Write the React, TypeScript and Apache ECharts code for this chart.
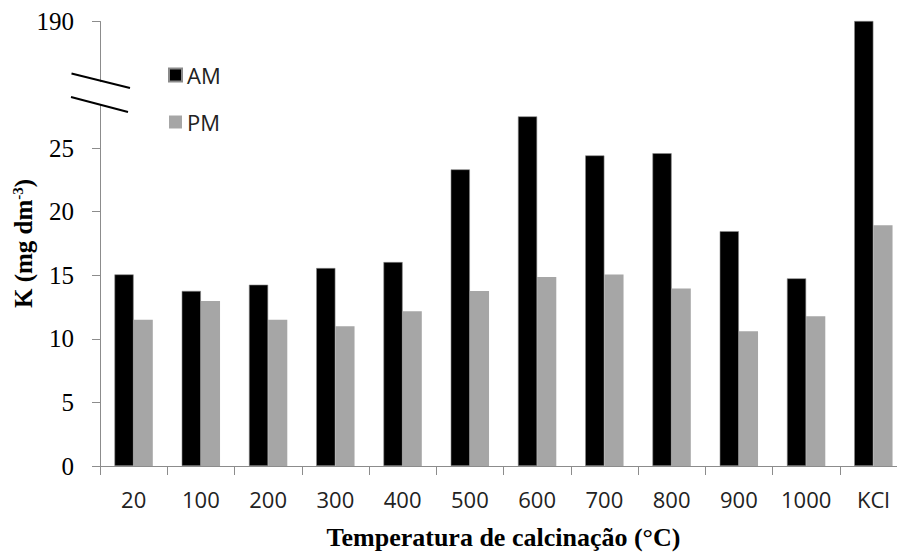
import React, { useEffect, useRef } from "react";
import * as echarts from "echarts";

const categories = ["20", "100", "200", "300", "400", "500", "600", "700", "800", "900", "1000", "KCl"];
const amValues = [15.07, 13.77, 14.26, 15.57, 16.04, 23.33, 27.5, 24.43, 24.6, 18.47, 14.76, 190];
const pmValues = [11.5, 12.98, 11.5, 11.0, 12.17, 13.77, 14.87, 15.07, 13.97, 10.6, 11.78, 18.94];
const yTickValues = [0, 5, 10, 15, 20, 25, 190];
const yBreak = { start: 30, end: 185 };

export default function App() {
  const ref = useRef<HTMLDivElement>(null);
  useEffect(() => {
    if (!ref.current) return;
    const chart = echarts.init(ref.current, null, { renderer: "svg" });
    const axisGray = "#8c8c8c";
    chart.setOption({
      animation: false,
      backgroundColor: "#ffffff",
      grid: { left: 100, right: -10, top: 21, bottom: 87, containLabel: false, outerBoundsMode: "none" },
      legend: {
        orient: "vertical",
        left: 163,
        top: 59,
        itemWidth: 13,
        itemHeight: 13,
        itemGap: 25,
        icon: "rect",
        textStyle: { fontFamily: "Open Sans", fontSize: 22, color: "#222" },
        data: ["AM", "PM"],
      },
      xAxis: {
        type: "category",
        data: categories,
        axisLine: { lineStyle: { color: axisGray, width: 1 } },
        axisTick: { show: true, length: 9, lineStyle: { color: axisGray } },
        axisLabel: { fontFamily: "Open Sans", fontSize: 22, color: "#222", margin: 22, interval: 0 },
        name: "Temperatura de calcinação (°C)",
        nameLocation: "middle",
        nameGap: 58,
        nameMoveOverlap: false,
        nameTextStyle: { fontFamily: "Liberation Serif", fontWeight: "bold", fontSize: 26, color: "#000" },
      },
      yAxis: {
        type: "value",
        min: 0,
        max: 190,
        interval: 5,
        breaks: [{ start: yBreak.start, end: yBreak.end, gap: 0 }],
        breakArea: { show: false },
        splitLine: { show: false },
        axisLine: { show: true, lineStyle: { color: axisGray, width: 1 } },
        axisTick: { show: true, length: 8, lineStyle: { color: axisGray }, customValues: yTickValues },
        axisLabel: {
          fontFamily: "Liberation Serif",
          fontSize: 25,
          color: "#000",
          margin: 26,
          customValues: yTickValues,
          formatter: (v: number) => String(v),
        },
        name: "{a|K (mg dm}{s|-3}{a|)}",
        nameLocation: "middle",
        nameGap: 63,
        nameMoveOverlap: false,
        nameRotate: 90,
        nameTextStyle: {
          rich: {
            a: { fontFamily: "Liberation Serif", fontWeight: "bold", fontSize: 25, color: "#000" },
            s: { fontFamily: "Liberation Serif", fontWeight: "bold", fontSize: 15, color: "#000", verticalAlign: "top", padding: [0, 0, 12, 0] },
          },
        },
      },
      series: [
        {
          name: "AM",
          type: "bar",
          data: amValues,
          barGap: "0%",
          barCategoryGap: "43%",
          itemStyle: { color: "#000000", borderColor: "#8a8a8a", borderWidth: 0.6 },
        },
        {
          name: "PM",
          type: "bar",
          data: pmValues,
          itemStyle: { color: "#a6a6a6" },
        },
      ],
      graphic: [
        {
          type: "polygon",
          z: 100,
          shape: { points: [[70, 75], [130, 89], [128, 111], [70, 97]] },
          style: { fill: "#ffffff" },
        },
        {
          type: "line",
          z: 101,
          shape: { x1: 71.5, y1: 73.5, x2: 130, y2: 88 },
          style: { stroke: "#000", lineWidth: 2 },
        },
        {
          type: "line",
          z: 101,
          shape: { x1: 71, y1: 97, x2: 128, y2: 112 },
          style: { stroke: "#000", lineWidth: 2 },
        },
      ],
    });
    return () => chart.dispose();
  }, []);
  return (
    <div
      ref={ref}
      style={{ position: "fixed", left: 0, top: 0, width: 897, height: 553 }}
    />
  );
}
